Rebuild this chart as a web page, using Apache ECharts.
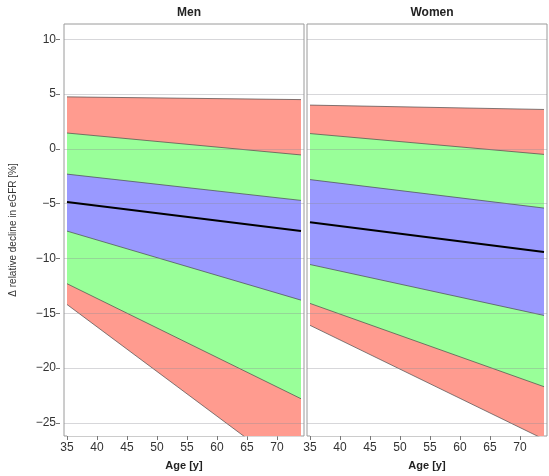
<!DOCTYPE html>
<html>
<head>
<meta charset="utf-8">
<script src="https://cdn.jsdelivr.net/npm/echarts@6/dist/echarts.min.js"></script>
<style>html,body{margin:0;padding:0;background:#fff}#c{width:549px;height:476px}</style>
</head>
<body>
<div id="c"></div>
<script>
// Ages at which band boundaries are given
var ages = [35, 74];
var xTicks = [35, 40, 45, 50, 55, 60, 65, 70];
var yTicks = [-25, -20, -15, -10, -5, 0, 5, 10];
var panels = ['Men', 'Women'];

// Men boundaries (values at ages 35 and 74)
var menLowerRed   = [-14.2, -30.1];
var menLowerGreen = [-12.3, -22.8];
var menLowerBlue  = [-7.5, -13.8];
var menUpperBlue  = [-2.3, -4.7];
var menUpperGreen = [1.45, -0.55];
var menUpperRed   = [4.75, 4.5];
var menTrend      = [-4.85, -7.5];

// Women boundaries
var womenLowerRed   = [-16.1, -26.5];
var womenLowerGreen = [-14.1, -21.7];
var womenLowerBlue  = [-10.55, -15.2];
var womenUpperBlue  = [-2.8, -5.4];
var womenUpperGreen = [1.4, -0.5];
var womenUpperRed   = [4.0, 3.6];
var womenTrend      = [-6.7, -9.4];

var RED = '#ff9b8f', GREEN = '#99ff99', BLUE = '#9999ff', EDGE = '#4a4a4a';

var chart = echarts.init(document.getElementById('c'), null, {renderer: 'canvas'});

function pairs(arr) { return ages.map(function (a, i) { return [a, arr[i]]; }); }
function minus(v) { return String(v).replace('-', '\u2212'); }

var grids = [
  {left: 64, top: 24, width: 240, height: 413, show: true, borderColor: '#9a9a9a', borderWidth: 1, backgroundColor: '#fff'},
  {left: 307, top: 24, width: 240, height: 413, show: true, borderColor: '#9a9a9a', borderWidth: 1, backgroundColor: '#fff'}
];

var xAxes = [0, 1].map(function (i) {
  return {
    type: 'value', gridIndex: i, min: 34.5, max: 74.5,
    name: 'Age [y]', nameLocation: 'middle', nameGap: 24,
    nameTextStyle: {fontWeight: 'bold', fontSize: 11, color: '#222', fontFamily: 'Liberation Sans'},
    axisLine: {show: false, onZero: false},
    axisTick: {show: true, length: 4, lineStyle: {color: '#777'}, customValues: xTicks},
    axisLabel: {show: true, margin: 6, fontSize: 12, color: '#333', fontFamily: 'Liberation Sans', customValues: xTicks},
    splitLine: {show: false}
  };
});

var yAxes = [0, 1].map(function (i) {
  return {
    type: 'value', gridIndex: i, min: -26.2, max: 11.4, offset: 4,
    name: i === 0 ? 'Δ relative decline in eGFR [%]' : '',
    nameLocation: 'middle', nameGap: 42,
    nameTextStyle: {fontSize: 10, color: '#333', fontFamily: 'Liberation Sans'},
    axisLine: {show: false, onZero: false},
    axisTick: {show: i === 0, length: 4, lineStyle: {color: '#777'}, customValues: yTicks},
    axisLabel: {show: i === 0, margin: 4, fontSize: 12, color: '#333', fontFamily: 'Liberation Sans', customValues: yTicks, formatter: minus},
    splitLine: {show: false}
  };
});

function area(idx, arr, color, z) {
  return {type: 'line', xAxisIndex: idx, yAxisIndex: idx, data: pairs(arr), symbol: 'none', silent: true,
    clip: true, z: z, lineStyle: {color: EDGE, width: 0.7},
    areaStyle: {color: color, opacity: 1, origin: 'start'}};
}

function bandSeries(idx, lr, lg, lb, ub, ug, ur, tr) {
  var out = [
    area(idx, ur, RED, 2),
    area(idx, ug, GREEN, 2),
    area(idx, ub, BLUE, 2),
    area(idx, lb, GREEN, 2),
    area(idx, lg, RED, 2),
    area(idx, lr, '#ffffff', 2)
  ];
  // gridlines on top
  out.push({type: 'line', xAxisIndex: idx, yAxisIndex: idx, data: [], silent: true, z: 5,
    markLine: {silent: true, symbol: 'none', label: {show: false},
      lineStyle: {color: 'rgba(140,140,150,0.35)', width: 1, type: 'solid'},
      data: yTicks.map(function (v) { return {yAxis: v}; })}});
  out.push({type: 'line', xAxisIndex: idx, yAxisIndex: idx, data: pairs(tr), symbol: 'none', silent: true, z: 6,
    lineStyle: {color: '#000', width: 2}});
  return out;
}

var series = [].concat(
  bandSeries(0, menLowerRed, menLowerGreen, menLowerBlue, menUpperBlue, menUpperGreen, menUpperRed, menTrend),
  bandSeries(1, womenLowerRed, womenLowerGreen, womenLowerBlue, womenUpperBlue, womenUpperGreen, womenUpperRed, womenTrend)
);

chart.setOption({
  animation: false,
  backgroundColor: '#fff',
  title: [
    {text: panels[0], left: 184, top: 2, textAlign: 'center', textStyle: {fontSize: 12, fontWeight: 'bold', color: '#222', fontFamily: 'Liberation Sans'}},
    {text: panels[1], left: 427, top: 2, textAlign: 'center', textStyle: {fontSize: 12, fontWeight: 'bold', color: '#222', fontFamily: 'Liberation Sans'}}
  ],
  grid: grids,
  xAxis: xAxes,
  yAxis: yAxes,
  series: series
});
</script>
</body>
</html>
